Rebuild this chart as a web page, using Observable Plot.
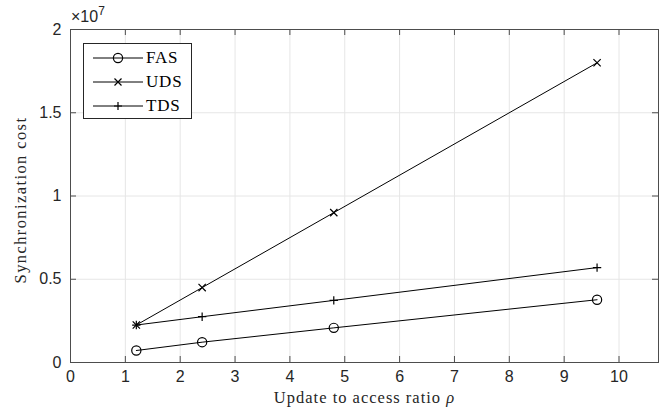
<!DOCTYPE html>
<html>
<head>
<meta charset="utf-8">
<script src="https://cdn.jsdelivr.net/npm/d3@7"></script>
<script src="https://cdn.jsdelivr.net/npm/@observablehq/plot@0.6"></script>
<style>
  html, body { margin: 0; padding: 0; background: #fff; }
  #wrap { position: relative; width: 661px; height: 414px; }
  #legend { position: absolute; left: 83px; top: 43px; width: 109px; height: 76px; border: 1px solid #262626; background: #fff; box-sizing: border-box; }
  .row { position: absolute; left: 0; height: 20px; display: flex; align-items: center; }
  .row span { font-family: "Liberation Serif", serif; font-size: 17px; letter-spacing: 0.8px; color: #000; margin-left: 3px; }
  #exp { position: absolute; left: 71px; top: 7px; font-family: "Liberation Sans", sans-serif; font-size: 16px; color: #262626; line-height: 20px; }
  #exp sup { font-size: 12px; vertical-align: 7px; line-height: 0; }
</style>
</head>
<body>
<div id="wrap"></div>
<script>
// Data
const rho = [1.2, 2.4, 4.8, 9.6];
const fas = [0.72e6, 1.22e6, 2.08e6, 3.77e6];
const uds = [2.25e6, 4.5e6, 9.0e6, 18.0e6];
const tds = [2.25e6, 2.75e6, 3.73e6, 5.7e6];
const seriesNames = ["FAS", "UDS", "TDS"];
const seriesSymbols = {FAS: "circle", UDS: "times", TDS: "plus"};
const seriesR = {FAS: 4.6, UDS: 3.4, TDS: 2.8};
const xTicks = [0, 1, 2, 3, 4, 5, 6, 7, 8, 9, 10];
const yTicks = [0, 0.5e7, 1e7, 1.5e7, 2e7];
const xLabel = "Update to access ratio \u03C1";
const yLabel = "Synchronization cost";

const table = [];
[fas, uds, tds].forEach((vals, i) => {
  rho.forEach((x, j) => table.push({series: seriesNames[i], x, y: vals[j]}));
});

const W = 661, H = 414, mL = 70, mR = 3, mT = 29, mB = 52;
const pw = W - mL - mR, ph = H - mT - mB;
const axisColor = "#4d4d4d";

const chart = Plot.plot({
  width: W, height: H,
  marginLeft: mL, marginRight: mR, marginTop: mT, marginBottom: mB,
  style: {fontFamily: "Liberation Sans, sans-serif", fontSize: "16px", color: "#262626", background: "#fff"},
  x: {domain: [0, 10.72]},
  y: {domain: [0, 2e7]},
  marks: [
    Plot.gridX(xTicks, {stroke: "#e6e6e6", strokeOpacity: 1}),
    Plot.gridY(yTicks, {stroke: "#e6e6e6", strokeOpacity: 1}),
    Plot.frame({stroke: axisColor, strokeWidth: 1}),
    Plot.tickX(xTicks, {x: d => d, insetTop: ph - 6, stroke: axisColor}),
    Plot.tickX(xTicks, {x: d => d, insetBottom: ph - 6, stroke: axisColor}),
    Plot.tickY(yTicks, {y: d => d, insetRight: pw - 6, stroke: axisColor}),
    Plot.tickY(yTicks, {y: d => d, insetLeft: pw - 6, stroke: axisColor}),
    Plot.axisX(xTicks, {tickSize: 0, tickPadding: 8, label: null, tickFormat: d => d, fontSize: 16, fill: "#262626"}),
    Plot.axisY(yTicks, {tickSize: 0, tickPadding: 9, label: null, tickFormat: d => d / 1e7, fontSize: 16, fill: "#262626"}),
    Plot.text([xLabel], {frameAnchor: "bottom", textAnchor: "middle", dy: 40, fontFamily: "Liberation Serif, serif", fontSize: 16.5, fill: "#262626", text: d => d}),
    Plot.text([yLabel], {frameAnchor: "left", textAnchor: "middle", dx: -50, dy: 4, rotate: -90, fontFamily: "Liberation Serif, serif", fontSize: 16.5, fill: "#262626", text: d => d}),
    Plot.line(table, {x: "x", y: "y", z: "series", stroke: "#000", strokeWidth: 1}),
    ...seriesNames.map(s => Plot.dot(table.filter(d => d.series === s), {x: "x", y: "y", symbol: seriesSymbols[s], r: seriesR[s], stroke: "#000", fill: "none", strokeWidth: 1.2}))
  ]
});

const wrap = document.getElementById("wrap");
wrap.appendChild(chart);

// Italic rho in x label, wider spacing on serif labels
chart.querySelectorAll("text").forEach(t => {
  if (t.textContent === xLabel) {
    t.textContent = "";
    const a = document.createElementNS("http://www.w3.org/2000/svg", "tspan");
    a.textContent = "Update to access ratio ";
    const b = document.createElementNS("http://www.w3.org/2000/svg", "tspan");
    b.textContent = "\u03C1";
    b.setAttribute("font-style", "italic");
    t.appendChild(a); t.appendChild(b);
    t.setAttribute("letter-spacing", "1.0");
  } else if (t.textContent === yLabel) {
    t.setAttribute("letter-spacing", "1.4");
  }
});

// exponent label
const exp = document.createElement("div");
exp.id = "exp";
exp.innerHTML = "\u00D710<sup>7</sup>";
wrap.appendChild(exp);

// legend
const leg = document.createElement("div");
leg.id = "legend";
const symPath = {
  circle: '<circle cx="25" cy="10" r="4.6" fill="none" stroke="#000" stroke-width="1.2"/>',
  times: '<path d="M21.5,6.5L28.5,13.5M28.5,6.5L21.5,13.5" stroke="#000" stroke-width="1.2"/>',
  plus: '<path d="M21,10H29M25,6V14" stroke="#000" stroke-width="1.2"/>'
};
seriesNames.forEach((s, i) => {
  const row = document.createElement("div");
  row.className = "row";
  row.style.top = (4 + i * 24) + "px";
  row.style.left = "9px";
  row.innerHTML = '<svg width="50" height="20"><line x1="0" y1="10" x2="50" y2="10" stroke="#000" stroke-width="1"/>' + symPath[seriesSymbols[s]] + '</svg><span>' + s + '</span>';
  leg.appendChild(row);
});
wrap.appendChild(leg);
</script>
</body>
</html>
